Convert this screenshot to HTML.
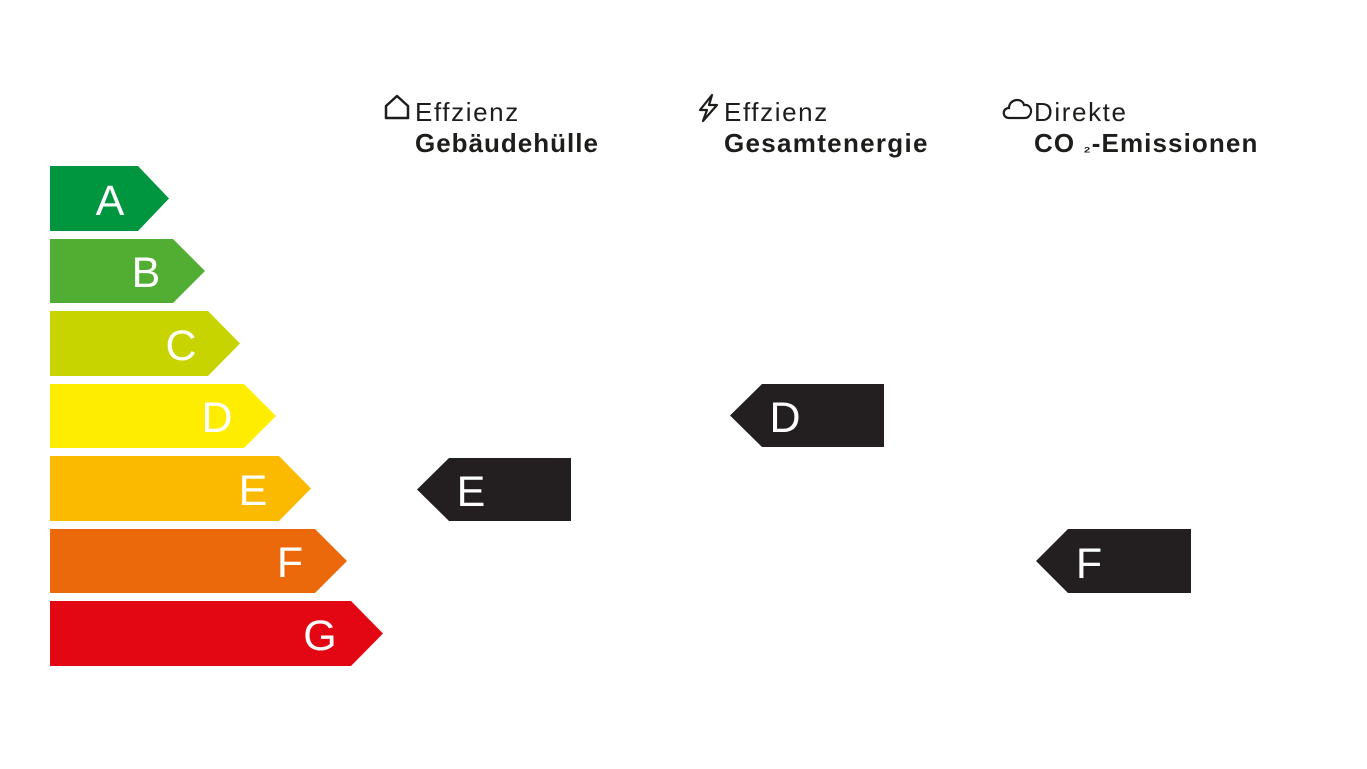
<!DOCTYPE html>
<html><head><meta charset="utf-8"><style>
html,body{margin:0;padding:0;background:#fff;}
svg{display:block;}
</style></head><body>
<svg width="1367" height="769" viewBox="0 0 1367 769" xmlns="http://www.w3.org/2000/svg" font-family="Liberation Sans, DejaVu Sans, sans-serif">
<rect width="1367" height="769" fill="#fff"/>
<g font-size="43" fill="#fff" text-anchor="middle">
<polygon points="50,166 138,166 169,198.5 138,231 50,231" fill="#009640"/>
<text x="110" y="215">A</text>
<polygon points="50,239 173,239 205,271 173,303 50,303" fill="#52ae32"/>
<text x="146" y="287">B</text>
<polygon points="50,311 208,311 240,343.5 208,376 50,376" fill="#c8d400"/>
<text x="181" y="360">C</text>
<polygon points="50,384 244,384 276,416 244,448 50,448" fill="#ffed00"/>
<text x="217" y="432">D</text>
<polygon points="50,456 279,456 311,488.5 279,521 50,521" fill="#fbba00"/>
<text x="253" y="505">E</text>
<polygon points="50,529 315,529 347,561 315,593 50,593" fill="#eb690b"/>
<text x="290" y="577">F</text>
<polygon points="50,601 351,601 383,633.5 351,666 50,666" fill="#e30613"/>
<text x="320" y="650">G</text>
</g>
<g fill="#231f20">
<polygon points="449,458 571,458 571,521 449,521 417,489.5"/>
<polygon points="762,384 884,384 884,447 762,447 730,415.5"/>
<polygon points="1068,529 1191,529 1191,593 1068,593 1036,561"/>
</g>
<g font-size="43" fill="#fff" text-anchor="middle">
<text x="471" y="506">E</text>
<text x="785" y="432">D</text>
<text x="1089" y="578">F</text>
</g>
<g fill="#1d1d1b">
<path d="M386,106 L397,96 L408,106 L408,118 L386,118 Z" fill="none" stroke="#1d1d1b" stroke-width="2.5" stroke-linejoin="round"/>
<text x="415" y="121" font-size="26" letter-spacing="1.6">Effzienz</text>
<text x="415" y="152" font-size="26" font-weight="bold" letter-spacing="1">Gebäudehülle</text>
<path d="M712,95 L700,110 L707,110 L703,121 L717,105 L709,105 Z" fill="none" stroke="#1d1d1b" stroke-width="2.2" stroke-linejoin="round"/>
<text x="724" y="121" font-size="26" letter-spacing="1.6">Effzienz</text>
<text x="724" y="152" font-size="26" font-weight="bold" letter-spacing="1.3">Gesamtenergie</text>
<path d="M1009,118 C1002,118 1002,108 1009,108 C1009,99 1022,97 1024,105 C1031,104 1033,112 1029,116 C1028,118 1026,118 1024,118 Z" fill="none" stroke="#1d1d1b" stroke-width="2.2"/>
<text x="1034" y="121" font-size="26" letter-spacing="1.6">Direkte</text>
<text x="1034" y="152" font-size="26" font-weight="bold" letter-spacing="1.1">CO <tspan font-size="16">₂</tspan>-Emissionen</text>
</g>
</svg>
</body></html>
